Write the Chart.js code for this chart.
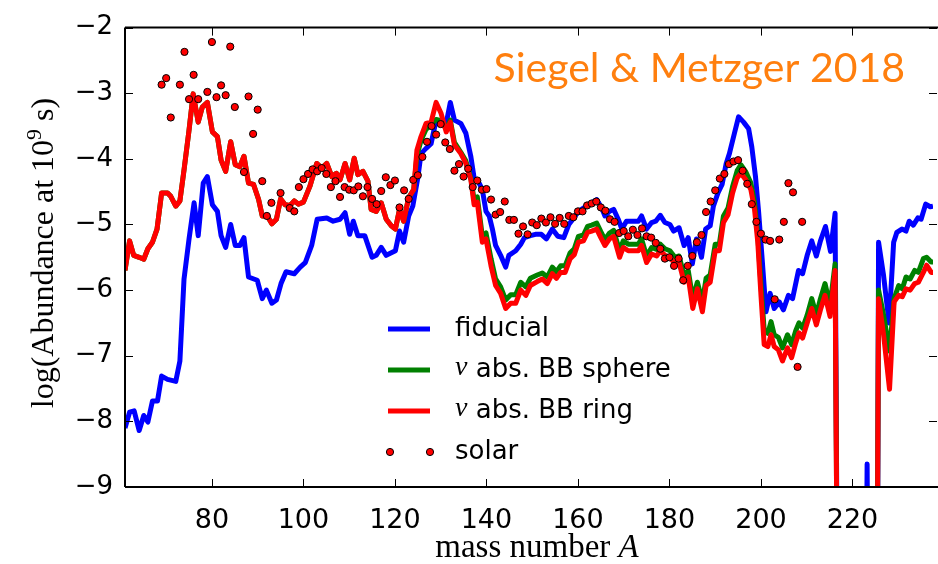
<!DOCTYPE html>
<html><head><meta charset="utf-8">
<script src="https://cdn.jsdelivr.net/npm/chart.js@4.4.1/dist/chart.umd.min.js"></script>
<style>html,body{margin:0;padding:0;background:#fff;}canvas{display:block;}</style>
</head><body>
<canvas id="c" width="938" height="564"></canvas>
<script>
// ---- data ----
const xTicks = [80, 100, 120, 140, 160, 180, 200, 220];
const yTicks = [-9, -8, -7, -6, -5, -4, -3, -2];
const yTickLabels = ['\u22129', '\u22128', '\u22127', '\u22126', '\u22125', '\u22124', '\u22123', '\u22122'];
const seriesNames = ['fiducial', 'abs. BB sphere', 'abs. BB ring', 'solar'];

const massFiducial = [61.0,62.0,63.0,64.1,65.1,66.0,67.0,68.1,69.0,70.3,72.1,73.0,73.9,75.0,76.1,77.0,78.1,79.0,80.1,81.2,82.0,83.0,84.1,85.1,86.1,87.0,88.0,89.9,91.0,91.9,93.1,94.1,95.1,96.2,98.0,99.3,100.4,101.8,103.0,105.1,106.5,108.0,109.1,110.1,110.9,111.9,113.4,115.0,115.9,117.0,118.1,120.1,121.0,121.9,123.0,123.9,125.0,125.7,126.8,127.9,129.0,130.1,131.2,132.1,133.0,134.4,135.5,136.6,137.3,138.4,139.1,139.9,140.6,141.3,142.0,143.1,144.2,144.9,146.4,147.5,148.3,149.6,150.7,152.0,153.1,154.4,155.6,156.9,158.0,159.1,160.1,161.2,162.3,163.0,164.1,165.2,165.9,166.9,167.8,168.8,169.6,170.6,172.1,173.2,173.9,175.0,176.1,177.0,178.0,179.0,180.1,180.9,182.1,183.2,184.1,185.0,185.9,187.0,187.9,188.9,189.6,190.6,191.5,192.4,193.1,194.2,195.1,196.2,197.3,198.0,198.8,199.5,200.2,201.1,202.0,202.9,204.0,204.9,206.0,206.9,208.2,209.1,210.1,211.1,212.1,213.0,214.1,215.2,216.2,216.8,222.9,223.2,223.5,225.4,225.7,226.8,228.0,229.0,229.7,230.8,231.7,232.4,233.3,234.3,235.0,236.0,237.0,237.6];
const fiducial = [-8.10,-7.86,-7.84,-8.14,-7.91,-8.01,-7.69,-7.69,-7.31,-7.36,-7.39,-7.08,-5.83,-5.22,-4.67,-5.17,-4.37,-4.27,-4.70,-4.80,-5.17,-5.35,-5.00,-5.32,-5.32,-5.20,-5.80,-5.85,-6.13,-6.00,-6.20,-6.15,-5.90,-5.72,-5.75,-5.65,-5.58,-5.32,-4.92,-4.90,-4.95,-4.92,-4.82,-5.15,-4.95,-5.17,-5.17,-5.50,-5.47,-5.35,-5.47,-5.40,-5.10,-5.27,-4.87,-4.72,-4.29,-3.92,-3.84,-3.77,-3.41,-3.44,-3.46,-3.14,-3.41,-3.46,-3.61,-3.97,-4.29,-4.37,-4.47,-4.80,-4.87,-5.07,-5.32,-5.47,-5.65,-5.47,-5.40,-5.30,-5.20,-5.17,-5.15,-5.15,-5.22,-5.07,-5.18,-5.20,-5.00,-4.90,-4.80,-4.75,-4.70,-4.67,-4.62,-4.75,-4.87,-4.80,-4.77,-4.92,-5.07,-4.95,-4.95,-4.95,-4.87,-5.07,-4.97,-4.95,-4.86,-4.97,-5.00,-5.10,-5.05,-5.32,-5.20,-5.60,-5.22,-5.50,-5.07,-5.02,-4.72,-4.52,-4.39,-4.07,-3.92,-3.61,-3.36,-3.44,-3.54,-3.82,-4.27,-4.82,-5.47,-6.33,-6.05,-6.28,-6.18,-6.30,-6.08,-6.13,-5.70,-5.75,-5.47,-5.25,-5.48,-5.25,-5.03,-5.41,-4.83,-12,-12,-8.65,-12,-12,-5.27,-5.78,-6.50,-5.27,-5.12,-5.07,-5.10,-4.95,-5.01,-4.90,-4.92,-4.69,-4.73,-4.72];

const massNuAbs = [61.0,62.0,62.9,64.1,65.1,66.0,67.0,68.0,69.0,70.3,71.0,72.1,73.0,73.9,75.0,75.9,77.0,77.9,79.0,80.1,81.2,82.0,83.0,84.1,85.1,86.1,87.0,88.0,89.1,90.2,91.0,92.0,93.1,94.1,95.0,96.0,97.1,98.0,98.9,100.0,101.4,102.9,104.0,105.1,106.2,107.2,108.0,109.1,110.1,111.1,111.9,113.0,114.1,114.8,115.9,117.0,118.1,119.2,120.1,121.0,121.9,123.0,124.1,124.8,125.7,126.8,127.9,129.0,130.1,131.2,132.1,133.0,134.4,135.5,136.6,137.3,138.0,139.1,139.9,141.0,142.0,143.1,144.2,145.3,146.4,147.5,148.6,149.6,151.1,152.2,153.3,154.4,155.3,156.2,157.2,158.3,159.2,160.1,161.2,162.1,163.0,164.1,165.0,165.9,166.9,167.8,169.1,169.9,171.0,172.1,173.2,173.9,175.0,176.1,177.2,178.0,179.0,180.1,181.2,182.1,183.2,184.1,185.1,186.1,187.2,188.0,188.9,190.0,190.9,191.8,192.8,193.8,194.8,195.6,196.7,197.8,198.6,199.3,200.0,200.7,201.5,202.2,202.9,203.8,204.7,205.8,206.7,207.6,208.3,209.1,210.1,211.1,212.1,213.0,214.0,215.1,216.2,216.8,225.3,225.7,226.8,228.1,229.1,230.1,230.9,231.7,232.6,233.6,234.4,235.5,236.2,237.2,237.6];
const sphere = [-5.70,-5.25,-5.47,-5.50,-5.53,-5.37,-5.27,-5.07,-4.52,-4.52,-4.57,-4.72,-4.64,-4.17,-3.56,-3.01,-3.44,-3.21,-3.14,-3.59,-3.66,-4.02,-4.19,-3.74,-4.09,-4.12,-3.96,-4.37,-4.39,-4.62,-4.87,-4.86,-4.99,-4.92,-4.61,-4.70,-4.71,-4.64,-4.69,-4.66,-4.42,-4.07,-4.14,-4.07,-4.27,-4.22,-4.32,-4.07,-4.32,-3.99,-4.24,-4.19,-4.34,-4.77,-4.80,-4.67,-4.92,-5.02,-5.07,-4.77,-4.95,-4.59,-4.47,-3.95,-3.72,-3.55,-3.48,-3.40,-3.42,-3.55,-3.41,-3.75,-3.90,-4.03,-4.30,-4.62,-4.58,-5.18,-5.13,-5.52,-5.83,-5.95,-6.15,-6.07,-6.07,-5.88,-5.95,-5.82,-5.77,-5.74,-5.80,-5.65,-5.72,-5.63,-5.63,-5.43,-5.37,-5.18,-5.16,-5.03,-5.01,-4.98,-5.11,-5.23,-5.13,-5.09,-5.40,-5.25,-5.30,-5.30,-5.30,-5.22,-5.48,-5.35,-5.38,-5.30,-5.37,-5.40,-5.50,-5.48,-5.78,-5.70,-6.13,-5.88,-6.18,-5.82,-5.77,-5.30,-5.30,-4.87,-4.75,-4.42,-4.18,-4.09,-4.20,-4.37,-4.67,-5.17,-5.92,-6.61,-6.66,-6.48,-6.68,-6.72,-6.88,-6.68,-6.83,-6.62,-6.50,-6.58,-6.38,-6.13,-6.38,-6.13,-5.90,-6.23,-5.60,-12,-12,-6.00,-6.38,-6.93,-6.13,-5.93,-5.98,-5.80,-5.83,-5.70,-5.73,-5.52,-5.50,-5.57,-5.57];
const ring = [-5.70,-5.25,-5.47,-5.50,-5.53,-5.37,-5.27,-5.07,-4.52,-4.52,-4.57,-4.72,-4.64,-4.17,-3.56,-3.01,-3.44,-3.21,-3.14,-3.59,-3.66,-4.02,-4.19,-3.74,-4.09,-4.12,-3.96,-4.37,-4.39,-4.62,-4.87,-4.86,-4.99,-4.92,-4.61,-4.70,-4.71,-4.64,-4.69,-4.66,-4.42,-4.07,-4.14,-4.07,-4.27,-4.22,-4.32,-4.07,-4.32,-3.99,-4.24,-4.19,-4.34,-4.77,-4.80,-4.67,-4.92,-5.02,-5.07,-4.77,-4.95,-4.59,-4.47,-3.87,-3.66,-3.46,-3.44,-3.14,-3.31,-3.59,-3.44,-3.79,-3.92,-4.07,-4.32,-4.70,-4.66,-5.27,-5.22,-5.63,-5.93,-6.05,-6.28,-6.20,-6.20,-6.00,-6.08,-5.93,-5.87,-5.83,-5.90,-5.75,-5.82,-5.73,-5.73,-5.52,-5.46,-5.27,-5.25,-5.12,-5.10,-5.07,-5.20,-5.32,-5.22,-5.18,-5.50,-5.35,-5.40,-5.40,-5.40,-5.32,-5.58,-5.45,-5.48,-5.40,-5.47,-5.50,-5.60,-5.58,-5.88,-5.80,-6.28,-5.98,-6.33,-5.93,-5.88,-5.40,-5.40,-4.97,-4.85,-4.52,-4.29,-4.22,-4.32,-4.47,-4.77,-5.27,-6.08,-6.83,-6.86,-6.68,-6.86,-6.91,-7.08,-6.88,-7.03,-6.80,-6.65,-6.73,-6.50,-6.28,-6.53,-6.30,-6.08,-6.40,-5.70,-12,-12,-6.13,-6.68,-7.51,-6.18,-6.08,-6.10,-5.98,-6.00,-5.90,-5.88,-5.73,-5.62,-5.73,-5.73];

const massSolar = [69,70,71,73,74,75,76,77,79,80,81,82,83,84,85,87,88,89,90,91,92,93,95,97,98,99,100,101,102,103,104,105,106,107,108,109,110,111,112,113,114,115,116,117,118,119,120,121,122,123,124,125,126,127,128,129,130,131,132,133,134,135,136,137,138,139,140,141,142,143,144,145,146,147,148,149,150,151,152,153,154,155,156,157,158,159,160,161,162,163,164,165,166,167,168,169,170,171,172,173,174,175,176,177,178,179,180,181,182,183,184,185,186,187,188,189,190,191,192,193,194,195,196,197,198,199,200,201,202,203,204,205,206,207,208,209];
const solar = [-2.87,-2.77,-3.37,-2.87,-2.37,-3.09,-2.72,-3.09,-2.98,-2.22,-3.06,-2.88,-3.03,-2.29,-3.21,-4.20,-3.05,-3.62,-3.25,-4.34,-4.87,-4.67,-4.52,-4.75,-4.80,-4.43,-4.31,-4.23,-4.16,-4.19,-4.14,-4.23,-4.43,-4.34,-4.58,-4.43,-4.47,-4.48,-4.42,-4.57,-4.43,-4.61,-4.69,-4.49,-4.28,-4.40,-4.33,-4.74,-4.48,-4.61,-4.32,-4.25,-3.97,-3.74,-3.50,-3.63,-3.47,-3.75,-3.85,-4.18,-4.08,-4.27,-4.15,-4.43,-4.33,-4.47,-4.46,-4.62,-4.85,-4.81,-4.65,-4.93,-4.93,-5.14,-5.03,-5.15,-4.97,-5.01,-4.91,-4.97,-4.89,-4.99,-4.90,-4.99,-4.87,-4.89,-4.80,-4.80,-4.71,-4.68,-4.65,-4.74,-4.79,-4.92,-4.96,-5.13,-5.10,-5.18,-5.08,-5.16,-5.06,-5.18,-5.20,-5.28,-5.37,-5.52,-5.50,-5.63,-5.52,-5.85,-5.63,-5.48,-5.27,-5.16,-4.81,-4.65,-4.48,-4.30,-4.23,-4.08,-4.04,-4.02,-4.18,-4.38,-4.69,-4.96,-5.14,-5.23,-5.25,-6.14,-5.23,-4.96,-4.37,-4.51,-7.17,-4.96];

const colors = ['#0000ff', '#008000', '#ff0000', '#ff0000'];

function pts(xs, ys) { return xs.map((x, i) => ({x: x, y: ys[i]})); }

const sansFont = '"DejaVu Sans", sans-serif';
const serifFont = '"Liberation Serif", "DejaVu Serif", serif';

const framePlugin = {
  id: 'frame',
  afterDatasetsDraw(chart) {
    const ctx = chart.ctx, ca = chart.chartArea, xs = chart.scales.x, ys = chart.scales.y;
    ctx.save();
    ctx.strokeStyle = '#000';
    ctx.lineWidth = 1;
    const tl = 8;
    ctx.beginPath();
    xTicks.forEach(v => {
      const px = Math.round(xs.getPixelForValue(v)) + 0.5;
      ctx.moveTo(px, ca.bottom); ctx.lineTo(px, ca.bottom - tl);
      ctx.moveTo(px, ca.top); ctx.lineTo(px, ca.top + tl);
    });
    yTicks.forEach(v => {
      const py = Math.round(ys.getPixelForValue(v)) + 0.5;
      ctx.moveTo(ca.left, py); ctx.lineTo(ca.left + tl, py);
      ctx.moveTo(ca.right + 4, py); ctx.lineTo(ca.right + 4 - tl, py);
    });
    ctx.stroke();
    ctx.lineWidth = 2;
    ctx.beginPath();
    ctx.moveTo(ca.left, ca.top); ctx.lineTo(ca.right + 5, ca.top);
    ctx.moveTo(ca.left, ca.top); ctx.lineTo(ca.left, ca.bottom);
    ctx.moveTo(ca.left, ca.bottom); ctx.lineTo(ca.right + 5, ca.bottom);
    ctx.stroke();

    // legend
    const lx0 = 388, lx1 = 430, tx = 455;
    const rows = [329, 370, 411, 452];
    ctx.lineWidth = 5;
    ctx.lineCap = 'butt';
    for (let i = 0; i < 3; i++) {
      ctx.strokeStyle = colors[i];
      ctx.beginPath(); ctx.moveTo(lx0, rows[i]); ctx.lineTo(lx1, rows[i]); ctx.stroke();
    }
    ctx.fillStyle = '#ff0000'; ctx.strokeStyle = '#000'; ctx.lineWidth = 1;
    [390, 430].forEach(px => { ctx.beginPath(); ctx.arc(px, rows[3], 3.6, 0, Math.PI * 2); ctx.fill(); ctx.stroke(); });
    ctx.fillStyle = '#000';
    ctx.textBaseline = 'middle';
    ctx.textAlign = 'left';
    ctx.font = '26px ' + sansFont;
    ctx.fillText(seriesNames[0], tx, rows[0]);
    for (let i = 1; i < 3; i++) {
      ctx.font = 'italic 28px ' + serifFont;
      ctx.fillText('\u03bd', tx, rows[i] - 2);
      const w = ctx.measureText('\u03bd').width;
      ctx.font = '26px ' + sansFont;
      ctx.fillText(' ' + seriesNames[i], tx + w, rows[i]);
    }
    ctx.fillText(seriesNames[3], tx, rows[3]);

    // annotation title
    ctx.fillStyle = '#ff7f0e';
    ctx.textAlign = 'right';
    ctx.textBaseline = 'alphabetic';
    ctx.font = '41px Lato, "Open Sans", sans-serif';
    ctx.fillText('Siegel & Metzger 2018', 905, 82);

    // x axis title
    ctx.fillStyle = '#000';
    const xf = 33;
    ctx.font = xf + 'px ' + serifFont;
    const t1 = 'mass number ';
    const w1 = ctx.measureText(t1).width;
    ctx.font = 'italic ' + xf + 'px ' + serifFont;
    const w2 = ctx.measureText('A').width;
    const cx = 537, x0 = cx - (w1 + w2) / 2;
    ctx.textAlign = 'left';
    ctx.font = xf + 'px ' + serifFont;
    ctx.fillText(t1, x0, 557);
    ctx.font = 'italic ' + xf + 'px ' + serifFont;
    ctx.fillText('A', x0 + w1, 557);

    // y axis title
    ctx.save();
    ctx.translate(53, 253);
    ctx.rotate(-Math.PI / 2);
    ctx.font = '32px ' + serifFont;
    const a = 'log(Abundance at 10', b = '9', c = ' s)';
    const wa = ctx.measureText(a).width, wc = ctx.measureText(c).width;
    ctx.font = '22px ' + serifFont;
    const wb = ctx.measureText(b).width;
    let sx = -(wa + wb + wc) / 2;
    ctx.font = '32px ' + serifFont;
    ctx.fillText(a, sx, 0);
    ctx.font = '22px ' + serifFont;
    ctx.fillText(b, sx + wa, -12);
    ctx.font = '32px ' + serifFont;
    ctx.fillText(c, sx + wa + wb, 0);
    ctx.restore();
    ctx.restore();
  }
};

const lineDs = (label, xs, ys, color, order) => ({
  label: label, data: pts(xs, ys), borderColor: color, backgroundColor: color,
  borderWidth: 5, pointRadius: 0, tension: 0, fill: false, order: order,
  borderJoinStyle: 'round', clip: 0
});

new Chart(document.getElementById('c'), {
  type: 'line',
  data: {
    datasets: [
      {
        label: seriesNames[3], data: pts(massSolar, solar), showLine: false,
        pointRadius: 3.6, pointBackgroundColor: '#ff0000', pointBorderColor: '#000',
        pointBorderWidth: 1, order: 0, clip: 0
      },
      lineDs(seriesNames[2], massNuAbs, ring, colors[2], 1),
      lineDs(seriesNames[1], massNuAbs, sphere, colors[1], 2),
      lineDs(seriesNames[0], massFiducial, fiducial, colors[0], 3)
    ]
  },
  options: {
    responsive: false, animation: false, devicePixelRatio: 1,
    layout: { padding: { top: 23, right: 0, left: 0, bottom: 0 } },
    plugins: { legend: { display: false }, tooltip: { enabled: false } },
    scales: {
      x: {
        type: 'linear', min: 61, max: 237.6,
        afterBuildTicks: s => { s.ticks = xTicks.map(v => ({value: v})); },
        afterFit: s => { s.height = 77; },
        grid: { display: false, drawTicks: false }, border: { display: false },
        ticks: { color: '#000', font: { family: sansFont, size: 27 }, padding: 18, maxRotation: 0,
                 callback: v => String(v) }
      },
      y: {
        type: 'linear', min: -9, max: -2,
        afterBuildTicks: s => { s.ticks = yTicks.map(v => ({value: v})); },
        afterFit: s => { s.width = 125; },
        grid: { display: false, drawTicks: false }, border: { display: false },
        ticks: { color: '#000', font: { family: sansFont, size: 26 }, padding: 12,
                 callback: v => yTickLabels[yTicks.indexOf(v)] }
      }
    }
  },
  plugins: [framePlugin]
});
</script>
</body></html>
